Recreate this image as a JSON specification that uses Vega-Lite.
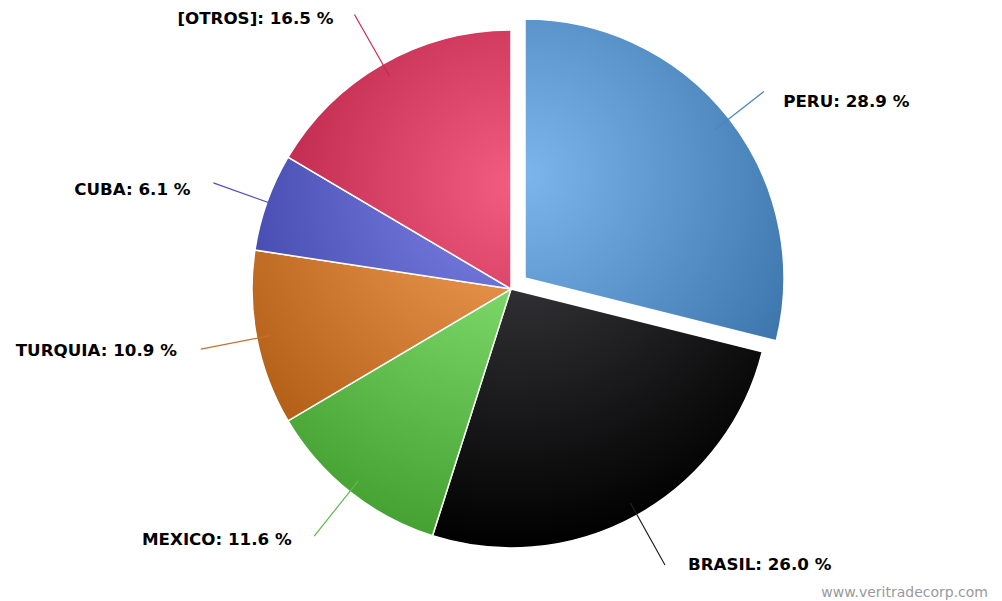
{
  "$schema": "https://vega.github.io/schema/vega-lite/v6.json",
  "width": 982,
  "height": 578,
  "padding": {"left": 20, "top": 0, "right": 0, "bottom": 23},
  "autosize": {"type": "none"},
  "background": "white",
  "config": {"view": {"stroke": null}},
  "data": {
    "values": [
      {"pais": "PERU", "pct": 28.9, "label": "PERU: 28.9 %", "orden": 1},
      {"pais": "BRASIL", "pct": 26.0, "label": "BRASIL: 26.0 %", "orden": 2},
      {"pais": "MEXICO", "pct": 11.6, "label": "MEXICO: 11.6 %", "orden": 3},
      {"pais": "TURQUIA", "pct": 10.9, "label": "TURQUIA: 10.9 %", "orden": 4},
      {"pais": "CUBA", "pct": 6.1, "label": "CUBA: 6.1 %", "orden": 5},
      {"pais": "[OTROS]", "pct": 16.5, "label": "[OTROS]: 16.5 %", "orden": 6}
    ]
  },
  "encoding": {
    "theta": {"field": "pct", "type": "quantitative", "stack": true},
    "order": {"field": "orden", "type": "quantitative"}
  },
  "layer": [
    {
      "mark": {"type": "arc", "radius": 259, "stroke": "white", "strokeWidth": 1.5},
      "encoding": {
        "opacity": {"condition": {"test": "datum.pais === 'PERU'", "value": 0}, "value": 1},
        "fill": {
          "condition": [
            {"test": "datum.pais === 'BRASIL'", "value": {"gradient": "radial", "x1": 0.238, "y1": -0.207, "r1": 0, "x2": 0.238, "y2": -0.207, "r2": 1.0995, "stops": [{"offset": 0, "color": "#434348"}, {"offset": 1, "color": "#000000"}]}},
            {"test": "datum.pais === 'MEXICO'", "value": {"gradient": "radial", "x1": 0.952, "y1": -0.42, "r1": 0, "x2": 0.952, "y2": -0.42, "r2": 1.469, "stops": [{"offset": 0, "color": "#90ed7d"}, {"offset": 1, "color": "#44a131"}]}},
            {"test": "datum.pais === 'TURQUIA'", "value": {"gradient": "radial", "x1": 1.0, "y1": -0.079, "r1": 0, "x2": 1.0, "y2": -0.079, "r2": 1.4, "stops": [{"offset": 0, "color": "#f7a35c"}, {"offset": 1, "color": "#ab5710"}]}},
            {"test": "datum.pais === 'CUBA'", "value": {"gradient": "radial", "x1": 1.0, "y1": 0.353, "r1": 0, "x2": 1.0, "y2": 0.353, "r2": 1.416, "stops": [{"offset": 0, "color": "#8085e9"}, {"offset": 1, "color": "#34399d"}]}}
          ],
          "value": {"gradient": "radial", "x1": 0.93, "y1": 0.6, "r1": 0, "x2": 0.93, "y2": 0.6, "r2": 1.4, "stops": [{"offset": 0, "color": "#f15c80"}, {"offset": 1, "color": "#a51034"}]}
        }
      }
    },
    {
      "mark": {"type": "arc", "radius": 259, "stroke": "white", "strokeWidth": 1.5, "xOffset": 14, "yOffset": -11},
      "encoding": {
        "opacity": {"condition": {"test": "datum.pais === 'PERU'", "value": 1}, "value": 0},
        "fill": {"value": {"gradient": "radial", "x1": 0.098, "y1": 0.483, "r1": 0, "x2": 0.098, "y2": 0.483, "r2": 1.127, "stops": [{"offset": 0, "color": "#7cb5ec"}, {"offset": 1, "color": "#3069a0"}]}}
      }
    },
    {
      "mark": {"type": "arc", "filled": false, "radius": 303, "radius2": 241, "padAngle": 1.3448, "strokeWidth": 1.2, "xOffset": 14, "yOffset": -11},
      "encoding": {
        "opacity": {"condition": {"test": "datum.pais === 'PERU'", "value": 1}, "value": 0},
        "stroke": {"value": "#4a86c0"}
      }
    },
    {
      "mark": {"type": "arc", "filled": false, "radius": 316, "radius2": 245, "padAngle": 1.3196, "strokeWidth": 1.2},
      "encoding": {
        "opacity": {"condition": {"test": "datum.pais === 'PERU'", "value": 0}, "value": 1},
        "stroke": {
          "condition": [
            {"test": "datum.pais === 'BRASIL'", "value": "#222224"},
            {"test": "datum.pais === 'MEXICO'", "value": "#5fb84c"},
            {"test": "datum.pais === 'TURQUIA'", "value": "#c8702a"},
            {"test": "datum.pais === 'CUBA'", "value": "#4e53c0"}
          ],
          "value": "#c52a55"
        }
      }
    },
    {
      "mark": {"type": "text", "radius": 320, "align": "left", "baseline": "middle", "dx": 20, "dy": 10, "font": "DejaVu Sans", "fontWeight": "bold", "fontSize": 16.7, "color": "#000000"},
      "encoding": {
        "text": {"field": "label"},
        "opacity": {"condition": {"test": "datum.pais === 'PERU'", "value": 1}, "value": 0}
      }
    },
    {
      "mark": {"type": "text", "radius": 320, "align": "left", "baseline": "middle", "dx": 21, "dy": -3, "font": "DejaVu Sans", "fontWeight": "bold", "fontSize": 16.7, "color": "#000000"},
      "encoding": {
        "text": {"field": "label"},
        "opacity": {"condition": {"test": "datum.pais === 'BRASIL'", "value": 1}, "value": 0}
      }
    },
    {
      "mark": {"type": "text", "radius": 320, "align": "right", "baseline": "middle", "dx": -20, "dy": 1, "font": "DejaVu Sans", "fontWeight": "bold", "fontSize": 16.7, "color": "#000000"},
      "encoding": {
        "text": {"field": "label"},
        "opacity": {"condition": {"test": "datum.pais === 'MEXICO' || datum.pais === 'TURQUIA'", "value": 1}, "value": 0}
      }
    },
    {
      "mark": {"type": "text", "radius": 320, "align": "right", "baseline": "middle", "dx": -19, "dy": 8, "font": "DejaVu Sans", "fontWeight": "bold", "fontSize": 16.7, "color": "#000000"},
      "encoding": {
        "text": {"field": "label"},
        "opacity": {"condition": {"test": "datum.pais === 'CUBA' || datum.pais === '[OTROS]'", "value": 1}, "value": 0}
      }
    },
    {
      "data": {"values": [{"sitio": "www.veritradecorp.com"}]},
      "mark": {"type": "text", "align": "right", "baseline": "middle", "dx": -14, "dy": 15, "font": "DejaVu Sans", "fontSize": 14, "color": "#999999"},
      "encoding": {
        "theta": null,
        "order": null,
        "x": {"value": "width"},
        "y": {"value": "height"},
        "text": {"field": "sitio"}
      }
    }
  ]
}
